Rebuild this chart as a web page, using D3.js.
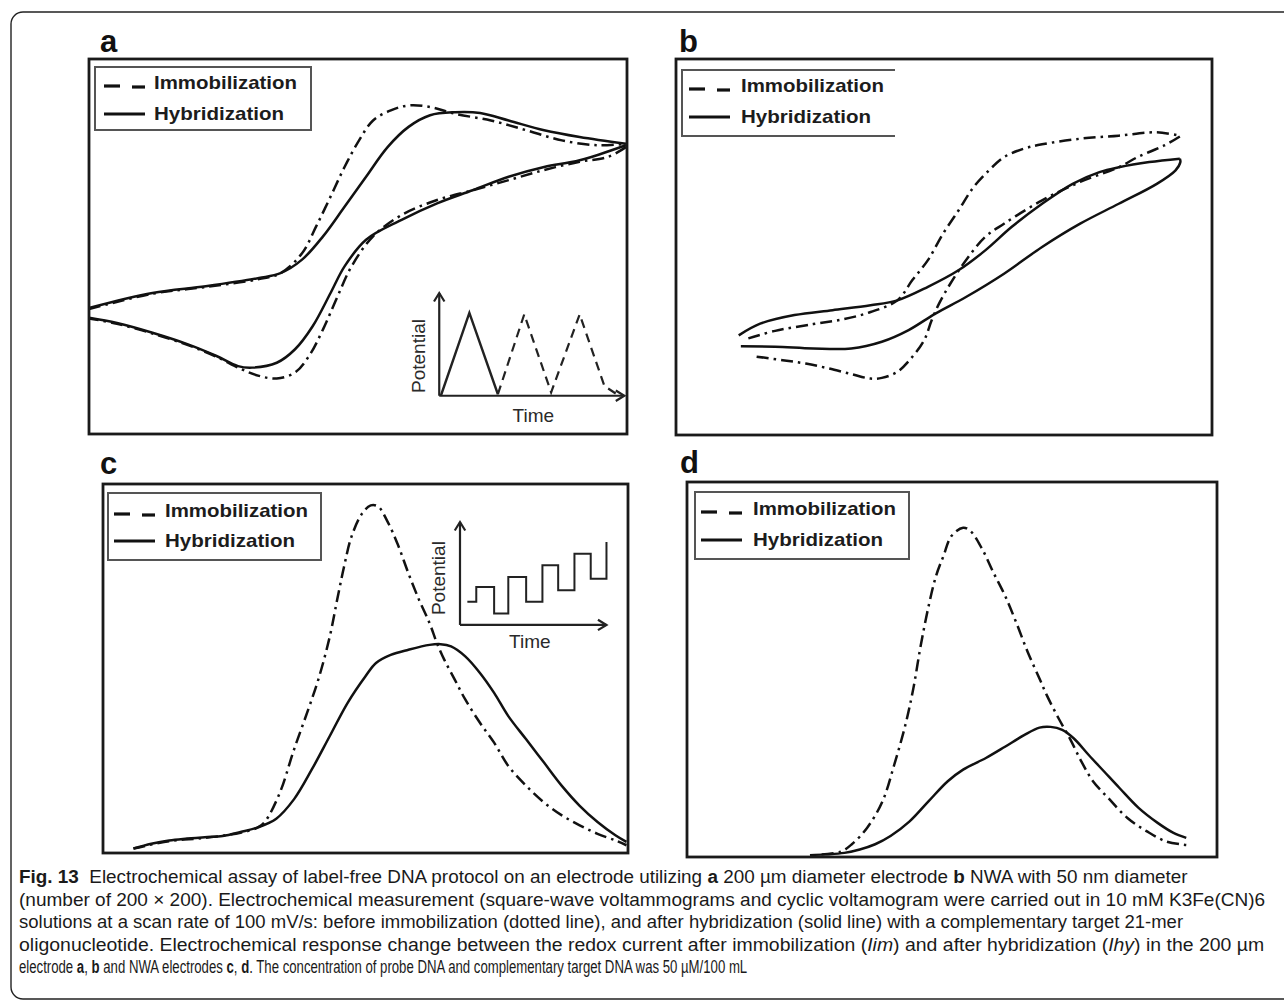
<!DOCTYPE html>
<html>
<head>
<meta charset="utf-8">
<script src="https://cdn.jsdelivr.net/npm/d3@7"></script>
<style>
  body { margin: 0; background: #fff; }
  svg { display: block; }
</style>
</head>
<body>
<svg id="fig" width="1284" height="1008"></svg>
<script>
/* global d3 */
// all curve values are read off the picture, normalised 0..100 inside each frame

// panel a : cyclic voltammogram, 200 um electrode
var aHybFwd = [[0,33.6],[11.8,37.6],[21.7,39.4],[31.6,41.6],[35.6,42.9],[39.6,46.5],[43.5,52.7],[47.5,60.6],[51.5,68.6],[55.5,76.5],[59.4,81.9],[63.4,85.0],[68.0,85.8],[72.7,85.6],[78.0,83.6],[84.6,81.0],[91.2,79.2],[99.8,77.4]];
var aHybRev = [[99.8,77.0],[91.2,73.0],[84.6,71.2],[78.0,68.6],[71.3,65.0],[64.7,61.5],[58.1,57.1],[51.5,51.8],[47.5,44.7],[44.9,37.6],[41.6,28.8],[38.3,22.6],[34.9,19.0],[30.3,17.7],[27.7,18.1],[23.7,20.8],[18.4,23.9],[11.8,27.0],[5.2,29.6],[0,31.0]];
var aImmFwd = [[0,33.3],[11.8,37.4],[21.7,39.2],[31.6,41.3],[35.6,42.9],[39.6,48.2],[42.2,55.3],[44.9,63.3],[47.5,71.2],[50.2,78.3],[52.8,83.6],[56.1,86.3],[59.4,87.6],[63.4,87.2],[68.0,85.4],[74.7,83.6],[81.3,81.0],[87.9,78.3],[94.5,77.0],[99.8,77.4]];
var aImmRev = [[99.8,76.5],[96.5,73.9],[91.2,72.6],[84.6,70.4],[78.0,67.7],[71.3,65.0],[64.7,62.4],[58.1,58.4],[52.8,52.7],[48.8,44.7],[46.2,36.7],[43.5,27.9],[40.9,20.8],[38.3,16.4],[34.9,14.8],[31.6,15.5],[28.3,17.3],[23.7,20.6],[18.4,23.7],[11.8,26.8],[5.2,29.4],[0,30.8]];

// panel b : cyclic voltammogram, NWA electrode
var bHybFwd = [[11.7,26.5],[15.7,29.6],[22.1,31.9],[29.2,33.2],[36.3,34.5],[41.3,35.8],[47.0,39.4],[52.7,43.8],[57.7,49.1],[62.6,55.3],[68.3,61.5],[74.0,66.8],[79.0,69.9],[82.6,71.2],[88.3,72.6],[94.0,73.5]];
var bHybRev = [[94.0,73.5],[94.1,72.6],[93.2,70.4],[89.7,66.8],[82.6,61.5],[75.4,56.2],[68.3,50.0],[61.2,42.9],[54.1,36.7],[48.4,32.3],[43.4,27.9],[38.4,24.8],[32.7,23.0],[25.6,23.0],[18.5,23.5],[12.1,23.6]];
var bImmFwd = [[13.5,25.7],[18.5,27.7],[25.6,29.5],[31.3,30.8],[36.3,32.7],[41.3,35.8],[44.1,41.2],[47.0,46.5],[49.8,53.5],[52.7,59.7],[55.5,65.9],[58.4,70.4],[61.2,73.9],[64.8,76.1],[68.3,77.3],[75.4,78.8],[82.6,79.6],[89.7,80.5],[94.0,79.6]];
var bImmRev = [[94.0,79.4],[91.1,77.0],[86.1,73.9],[82.6,71.2],[75.4,67.3],[68.3,62.4],[61.2,56.2],[57.7,52.7],[54.1,46.5],[51.2,40.3],[49.1,35.0],[47.7,30.5],[46.3,25.2],[44.1,20.8],[41.3,16.8],[38.4,15.2],[36.3,15.0],[32.7,16.2],[28.5,17.7],[24.2,19.0],[19.9,19.9],[14.2,21.0]];

// panel c : square-wave voltammogram, 200 um electrode
var cHyb = [[5.8,1.2],[9.2,2.5],[12.6,3.4],[16.0,3.9],[19.4,4.3],[22.8,4.6],[26.2,5.7],[29.6,7.0],[33.0,9.3],[36.4,14.6],[39.8,22.7],[43.2,31.7],[46.6,40.7],[50.0,47.9],[52.0,51.5],[54.8,53.7],[58.2,55.1],[62.2,56.4],[64.3,56.6],[66.3,56.0],[69.0,53.3],[71.8,48.8],[74.5,43.4],[77.2,37.1],[80.6,30.8],[84.0,24.5],[87.4,18.2],[90.8,12.8],[94.2,8.4],[97.6,4.8],[99.7,3.0]];
var cImm = [[5.8,1.2],[12.6,3.2],[19.4,4.1],[26.2,5.5],[29.6,7.0],[31.0,8.8],[33.7,16.4],[36.4,28.1],[39.1,38.9],[41.2,47.9],[43.2,58.7],[44.6,68.6],[45.9,77.5],[47.3,85.6],[49.3,91.9],[51.0,94.2],[52.4,93.9],[54.1,90.1],[56.1,83.8],[58.2,75.7],[60.2,68.6],[62.2,62.3],[63.6,56.9],[65.0,52.4],[67.0,47.0],[69.0,41.6],[71.8,35.3],[74.5,29.9],[77.2,23.6],[80.6,18.2],[84.0,13.7],[87.4,10.2],[90.8,7.5],[94.2,5.2],[97.6,3.4],[99.7,2.1]];

// panel d : square-wave voltammogram, NWA electrode
var dHyb = [[23.2,0.5],[26.1,0.7],[29.7,1.1],[32.6,2.0],[35.5,3.4],[38.4,5.6],[42.0,9.5],[45.6,14.9],[49.2,20.2],[52.1,23.3],[56.4,26.4],[60.0,29.4],[63.6,32.5],[66.5,34.5],[68.6,34.7],[70.8,33.9],[73.0,31.6],[75.8,27.2],[78.7,22.8],[81.6,18.4],[85.2,13.1],[88.8,9.1],[91.7,6.5],[94.2,5.1]];
var dImm = [[25.4,0.7],[29.0,1.4],[31.1,3.4],[34.0,7.8],[36.9,14.9],[39.1,24.6],[41.2,35.2],[42.7,44.9],[44.1,56.4],[45.6,67.0],[47.0,75.0],[48.4,80.3],[49.9,85.6],[52.1,87.8],[53.5,86.9],[55.7,82.1],[57.8,75.9],[60.0,69.7],[62.1,62.6],[64.3,54.6],[66.5,47.6],[67.9,43.1],[70.1,37.0],[72.2,31.7],[74.4,25.5],[76.6,20.2],[79.5,15.7],[83.1,10.4],[86.7,6.9],[90.3,4.2],[94.2,3.2]];

// inset waveforms
var aInsetSolid = [[65.4,10.2],[70.7,32.3],[76.0,10.6]];
var aInsetDashed = [[76.0,10.6],[80.9,31.9],[85.9,11.1],[91.2,31.9],[95.8,12.8],[98.1,10.6]];
var cInsetSteps = [[69.4,68.1],[71.1,68.1],[71.1,72.1],[74.5,72.1],[74.5,64.9],[77.2,64.9],[77.2,74.8],[80.6,74.8],[80.6,68.1],[83.7,68.1],[83.7,78.0],[86.7,78.0],[86.7,71.2],[89.8,71.2],[89.8,81.1],[92.9,81.1],[92.9,74.3],[95.9,74.3],[95.9,84.3]];

var panelNames = ["a", "b", "c", "d"];
var legendNames = ["Immobilization", "Hybridization"];
var insetAxisNames = ["Potential", "Time"];

var captionLines = [
  [["Fig. 13", "b"], ["  Electrochemical assay of label-free DNA protocol on an electrode utilizing ", ""], ["a", "b"], [" 200 \u00b5m diameter electrode ", ""], ["b", "b"], [" NWA with 50 nm diameter", ""]],
  [["(number of 200 \u00d7 200). Electrochemical measurement (square-wave voltammograms and cyclic voltamogram were carried out in 10 mM K3Fe(CN)6", ""]],
  [["solutions at a scan rate of 100 mV/s: before immobilization (dotted line), and after hybridization (solid line) with a complementary target 21-mer", ""]],
  [["oligonucleotide. Electrochemical response change between the redox current after immobilization (", ""], ["Iim", "i"], [") and after hybridization (", ""], ["Ihy", "i"], [") in the 200 \u00b5m", ""]],
  [["electrode ", ""], ["a", "b"], [", ", ""], ["b", "b"], [" and NWA electrodes ", ""], ["c", "b"], [", ", ""], ["d", "b"], [". The concentration of probe DNA and complementary target DNA was 50 \u00b5M/100 mL", ""]]
];

var svg = d3.select("#fig"),
  ink = "#111",
  font = "'Liberation Sans', Arial, sans-serif";

// outer rounded border of the figure
svg.append("rect")
  .attr("x", 11).attr("y", 12).attr("width", 1300).attr("height", 987)
  .attr("rx", 12).attr("fill", "none").attr("stroke", "#222").attr("stroke-width", 1.4);

var panels = [
  { x0: 89, x1: 627, y0: 59, y1: 434, lx: 100, ly: 52,
    leg: { x0: 95, x1: 311, y0: 67, y1: 130, sx: 104, tx: 154, t1: 89, t2: 120, open: false },
    series: [[aHybFwd, false], [aHybRev, false], [aImmFwd, true], [aImmRev, true]] },
  { x0: 676, x1: 1212, y0: 59, y1: 435, lx: 679, ly: 52,
    leg: { x0: 682, x1: 895, y0: 70, y1: 136, sx: 689, tx: 741, t1: 92, t2: 123, open: true },
    series: [[bHybFwd, false], [bHybRev, false], [bImmFwd, true], [bImmRev, true]] },
  { x0: 103, x1: 628, y0: 484, y1: 853, lx: 100, ly: 474,
    leg: { x0: 108, x1: 321, y0: 493, y1: 560, sx: 114, tx: 165, t1: 517, t2: 547, open: false },
    series: [[cHyb, false], [cImm, true]] },
  { x0: 687, x1: 1217, y0: 482, y1: 857, lx: 680, ly: 473,
    leg: { x0: 695, x1: 909, y0: 492, y1: 559, sx: 701, tx: 753, t1: 515, t2: 546, open: false },
    series: [[dHyb, false], [dImm, true]] }
];

panels.forEach(function (p, i) {
  p.x = d3.scaleLinear().domain([0, 100]).range([p.x0, p.x1]);
  p.y = d3.scaleLinear().domain([0, 100]).range([p.y1, p.y0]);
  var g = svg.append("g");
  var line = d3.line()
    .x(function (d) { return p.x(d[0]); })
    .y(function (d) { return p.y(d[1]); })
    .curve(d3.curveCatmullRom.alpha(0.5));

  p.series.forEach(function (s) {
    g.append("path")
      .datum(s[0])
      .attr("d", line)
      .attr("fill", "none")
      .attr("stroke", ink)
      .attr("stroke-width", 2.5)
      .attr("stroke-dasharray", s[1] ? "12,5,2.5,5" : null);
  });

  // frame
  g.append("rect")
    .attr("x", p.x0).attr("y", p.y0)
    .attr("width", p.x1 - p.x0).attr("height", p.y1 - p.y0)
    .attr("fill", "none").attr("stroke", "#1a1a1a").attr("stroke-width", 2.8);

  g.append("text")
    .attr("x", p.lx).attr("y", p.ly)
    .attr("font-family", font).attr("font-weight", "bold").attr("font-size", 31)
    .attr("fill", ink)
    .text(panelNames[i]);

  drawLegend(g, p.leg);
  p.g = g;
});

function drawLegend(g, L) {
  if (L.open) {
    g.append("path")
      .attr("d", "M" + L.x1 + "," + L.y0 + "H" + L.x0 + "V" + L.y1 + "H" + L.x1)
      .attr("fill", "none").attr("stroke", "#555").attr("stroke-width", 2);
  } else {
    g.append("rect")
      .attr("x", L.x0).attr("y", L.y0)
      .attr("width", L.x1 - L.x0).attr("height", L.y1 - L.y0)
      .attr("fill", "none").attr("stroke", "#555").attr("stroke-width", 2);
  }
  // dashed key: two separate dashes
  g.append("line").attr("x1", L.sx).attr("x2", L.sx + 16)
    .attr("y1", L.t1 - 3).attr("y2", L.t1 - 3).attr("stroke", ink).attr("stroke-width", 3.2);
  g.append("line").attr("x1", L.sx + 28).attr("x2", L.sx + 41)
    .attr("y1", L.t1 - 2).attr("y2", L.t1 - 2).attr("stroke", ink).attr("stroke-width", 3.2);
  g.append("line").attr("x1", L.sx).attr("x2", L.sx + 41)
    .attr("y1", L.t2 - 6).attr("y2", L.t2 - 6).attr("stroke", ink).attr("stroke-width", 2.8);

  g.selectAll(null).data(legendNames).enter().append("text")
    .attr("x", L.tx)
    .attr("y", function (d, k) { return k ? L.t2 : L.t1; })
    .attr("font-family", font).attr("font-weight", "bold").attr("font-size", 19)
    .attr("textLength", function (d, k) { return k ? 130 : 143; })
    .attr("lengthAdjust", "spacingAndGlyphs")
    .attr("fill", "#1c1c1c")
    .text(function (d) { return d; });
}

// arrow drawn with open chevron head
function arrow(g, x1, y1, x2, y2) {
  var a = Math.atan2(y2 - y1, x2 - x1), h = 10, w = 0.55;
  g.append("line").attr("x1", x1).attr("y1", y1).attr("x2", x2).attr("y2", y2)
    .attr("stroke", "#222").attr("stroke-width", 2.2);
  g.append("path")
    .attr("d", "M" + (x2 - h * Math.cos(a - w)) + "," + (y2 - h * Math.sin(a - w)) +
      "L" + x2 + "," + y2 +
      "L" + (x2 - h * Math.cos(a + w)) + "," + (y2 - h * Math.sin(a + w)))
    .attr("fill", "none").attr("stroke", "#222").attr("stroke-width", 2.2);
}

function insetLabels(p, px, py, tx, ty) {
  p.g.append("text")
    .attr("transform", "translate(" + p.x(px) + "," + p.y(py) + ") rotate(-90)")
    .attr("text-anchor", "middle")
    .attr("font-family", font).attr("font-size", 19).attr("fill", "#2a2a2a")
    .text(insetAxisNames[0]);
  p.g.append("text")
    .attr("x", p.x(tx)).attr("y", p.y(ty))
    .attr("text-anchor", "middle")
    .attr("font-family", font).attr("font-size", 19).attr("fill", "#2a2a2a")
    .text(insetAxisNames[1]);
}

// inset of panel a: triangular sweeps
var pa = panels[0],
  insetLine = d3.line().x(function (d) { return pa.x(d[0]); }).y(function (d) { return pa.y(d[1]); });
arrow(pa.g, pa.x(65.1), pa.y(10.2), pa.x(65.1), pa.y(37.6));
arrow(pa.g, pa.x(65.1), pa.y(10.2), pa.x(99.5), pa.y(10.2));
pa.g.append("path").datum(aInsetSolid).attr("d", insetLine)
  .attr("fill", "none").attr("stroke", "#222").attr("stroke-width", 2.4);
pa.g.append("path").datum(aInsetDashed).attr("d", insetLine)
  .attr("fill", "none").attr("stroke", "#222").attr("stroke-width", 2.2)
  .attr("stroke-dasharray", "9,6");
insetLabels(pa, 62.4, 20.8, 82.6, 3.2);

// inset of panel c: staircase
var pc = panels[2],
  stepLine = d3.line().x(function (d) { return pc.x(d[0]); }).y(function (d) { return pc.y(d[1]); });
arrow(pc.g, pc.x(68.0), pc.y(61.8), pc.x(68.0), pc.y(89.7));
arrow(pc.g, pc.x(68.0), pc.y(61.8), pc.x(95.9), pc.y(61.8));
pc.g.append("path").datum(cInsetSteps).attr("d", stepLine)
  .attr("fill", "none").attr("stroke", "#222").attr("stroke-width", 2);
insetLabels(pc, 65.2, 74.5, 81.3, 55.6);

// caption: each line squeezed/stretched horizontally to the width it has in the figure
var capX = 19,
  capY = [883, 905.5, 928, 950.5, 973],
  capRight = [1188, 1266, 1184, 1265, 748];
captionLines.forEach(function (parts, i) {
  var t = svg.append("text")
    .attr("font-family", font)
    .attr("font-size", 18.5)
    .attr("fill", "#1a1a1a")
    .style("white-space", "pre");
  t.selectAll("tspan").data(parts).enter().append("tspan")
    .attr("font-weight", function (d) { return d[1] === "b" ? "bold" : null; })
    .attr("font-style", function (d) { return d[1] === "i" ? "italic" : null; })
    .text(function (d) { return d[0]; });
  var w = t.node().getComputedTextLength(),
    sx = (capRight[i] - capX) / w;
  t.attr("transform", "translate(" + capX + "," + capY[i] + ") scale(" + sx + ",1)");
});
</script>
</body>
</html>
